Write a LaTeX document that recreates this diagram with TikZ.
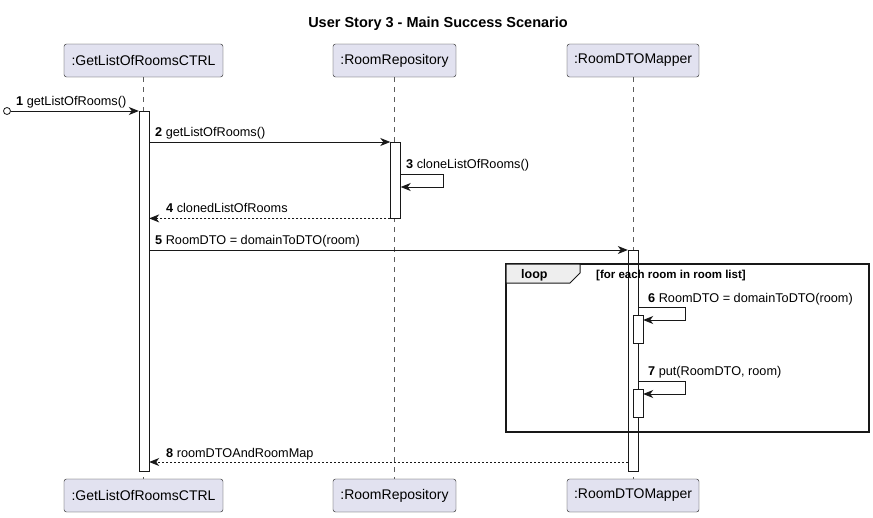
\documentclass[tikz,border=0pt]{standalone}
\usepackage{fontspec}
\setmainfont{Liberation Sans}
\usetikzlibrary{arrows.meta,calc}
\definecolor{partfill}{HTML}{E2E2F0}
\definecolor{lineclr}{HTML}{181818}
\definecolor{tabfill}{HTML}{EEEEEE}
\begin{document}
\begin{tikzpicture}[x=1pt,y=-1pt,
  part/.style={draw=lineclr,fill=partfill,rounded corners=2.5pt,minimum height=33pt,inner sep=0pt,font=\fontsize{14}{16}\selectfont},
  lifeline/.style={draw=lineclr!70,dash pattern=on 5pt off 5pt,line width=0.6pt},
  act/.style={draw=lineclr,fill=white,minimum width=10pt,inner sep=0pt,anchor=north},
  msg/.style={draw=lineclr,line width=0.8pt,-{Stealth[length=10pt,width=8pt,inset=3pt]}},
  ret/.style={msg,dash pattern=on 2pt off 2pt},
  lbl/.style={font=\fontsize{12.7}{14}\selectfont,anchor=base west,inner sep=0pt},
  ttl/.style={font=\bfseries\fontsize{14.5}{16}\selectfont}
]
\useasboundingbox (0,0) rectangle (873,517);
\node[ttl] (title) at (438,24) {User Story 3 - Main Success Scenario};

% participants
\node[part,minimum width=159pt] (pA) at (143.5,60.5) {:GetListOfRoomsCTRL};
\node[part,minimum width=123pt] (pB) at (394.5,60.5) {:RoomRepository};
\node[part,minimum width=132pt] (pC) at (633,60.5) {:RoomDTOMapper};
\node[part,minimum width=159pt] (qA) at (143.5,495.5) {:GetListOfRoomsCTRL};
\node[part,minimum width=123pt] (qB) at (394.5,495.5) {:RoomRepository};
\node[part,minimum width=132pt] (qC) at (633,495.5) {:RoomDTOMapper};

% lifelines
\draw[lifeline] (pA.south) -- (qA.north);
\draw[lifeline] (pB.south) -- (qB.north);
\draw[lifeline] (pC.south) -- (qC.north);

% activations
\node[act,minimum height=360pt] (aA) at (144,111) {};
\node[act,minimum height=76pt] (aB) at (395.5,142) {};
\node[act,minimum height=221pt] (aC) at (633,250) {};

% loop frame
\draw[line width=1.4pt,draw=lineclr] (506,264) rectangle (869,432);
\draw[line width=1.0pt,draw=lineclr,fill=tabfill] (506,264) -- (580,264) -- (580,273) -- (570,283) -- (506,283) -- cycle;
\node[font=\bfseries\fontsize{12.5}{14}\selectfont,anchor=base west,inner sep=0pt] (looplbl) at (521,278) {loop};
\node[font=\bfseries\fontsize{11.5}{14}\selectfont,anchor=base west,inner sep=0pt] (guard) at (596,278) {[for each room in room list]};

% nested activations
\node[act,minimum height=28pt] (aC1) at (638,315) {};
\node[act,minimum height=28pt] (aC2) at (638,389) {};

% message 1
\coordinate (start) at (7,111);
\draw[lineclr,line width=0.8pt,fill=white] (start) circle (3.5pt);
\coordinate (startE) at (10.5,111);
\draw[msg] (startE) -- (aA.north west);
\node[lbl] (l1) at (16,105) {\textbf{1} getListOfRooms()};

% message 2
\draw[msg] (aA.east |- aB.north) -- (aB.north west);
\node[lbl] (l2) at (155,136) {\textbf{2} getListOfRooms()};

% message 3 (self)
\coordinate (s3a) at ($(aB.north east)+(0,32)$);
\coordinate (s3b) at ($(aB.north east)+(0,45)$);
\draw[msg] (s3a) -- ++(43,0) -- ++(0,13) -- (s3b);
\node[lbl] (l3) at (406,168) {\textbf{3} cloneListOfRooms()};

% message 4
\draw[ret] (aB.south west) -- (aA.east |- aB.south);
\node[lbl] (l4) at (166,212) {\textbf{4} clonedListOfRooms};

% message 5
\draw[msg] (aA.east |- aC.north) -- (aC.north west);
\node[lbl] (l5) at (155,244) {\textbf{5} RoomDTO = domainToDTO(room)};

% message 6 (self)
\coordinate (s6a) at (aC.east |- 0,307);
\coordinate (s6b) at (aC1.east |- 0,320);
\draw[msg] (s6a) -- (685,307) -- (685,320) -- (s6b);
\node[lbl] (l6) at (648,302) {\textbf{6} RoomDTO = domainToDTO(room)};

% message 7 (self)
\coordinate (s7a) at (aC.east |- 0,381);
\coordinate (s7b) at (aC2.east |- 0,394);
\draw[msg] (s7a) -- (685,381) -- (685,394) -- (s7b);
\node[lbl] (l7) at (648,375) {\textbf{7} put(RoomDTO, room)};

% message 8
\coordinate (r8) at (aC.west |- 0,462);
\draw[ret] (r8) -- (aA.east |- r8);
\node[lbl] (l8) at (166,457) {\textbf{8} roomDTOAndRoomMap};
\end{tikzpicture}
\end{document}
